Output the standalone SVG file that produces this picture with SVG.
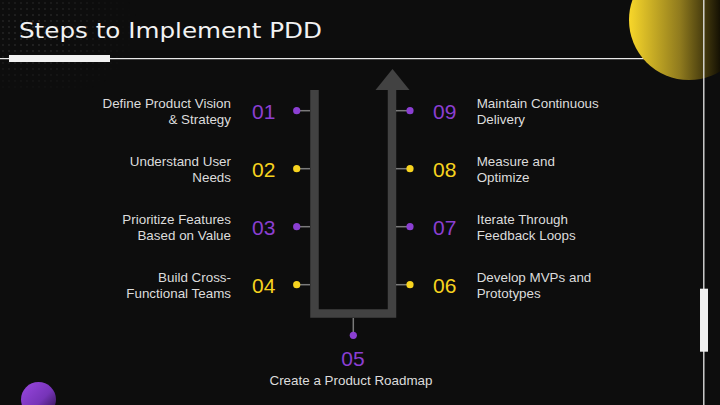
<svg xmlns="http://www.w3.org/2000/svg" width="720" height="405" viewBox="0 0 720 405">
<defs>
<style>
.bg{fill:#0d0d0d}
.lbl{font-family:"Liberation Sans",Arial,sans-serif;font-size:13.4px;fill:#dcdcdc}
.num{font-family:"Liberation Sans",Arial,sans-serif;font-size:21px}
.p{fill:#8b3fd2}
.y{fill:#f7d31f}
.conn{stroke:#7a7a7a;stroke-width:1.5}
.track{fill:none;stroke:#424242;stroke-width:8.5;stroke-linejoin:miter}
</style>
<linearGradient id="gy" gradientUnits="userSpaceOnUse" x1="629" y1="0" x2="722" y2="0">
<stop offset="0" stop-color="#f8d72a"/>
<stop offset="0.55" stop-color="#8f7a1e"/>
<stop offset="1" stop-color="#0f0c02"/>
</linearGradient>
<linearGradient id="gp" x1="0" y1="0" x2="1" y2="1">
<stop offset="0" stop-color="#9a48e0"/>
<stop offset="0.55" stop-color="#7634b8"/>
<stop offset="1" stop-color="#220c3a"/>
</linearGradient>
<pattern id="dots" width="6" height="6" patternUnits="userSpaceOnUse">
<circle cx="3" cy="3" r="0.9" fill="#3a3a3a"/>
</pattern>
<radialGradient id="fade" cx="0.25" cy="0.35" r="0.75">
<stop offset="0" stop-color="#fff" stop-opacity="0.8"/>
<stop offset="1" stop-color="#fff" stop-opacity="0"/>
</radialGradient>
<mask id="m"><rect x="0" y="0" width="140" height="90" fill="url(#fade)"/></mask>
</defs>
<rect class="bg" x="0" y="0" width="720" height="405"/>
<rect x="0" y="0" width="140" height="90" fill="url(#dots)" mask="url(#m)"/>
<line x1="0" y1="58.7" x2="704" y2="58.7" stroke="#e8e8e8" stroke-width="1.2"/>
<circle cx="689" cy="20" r="60" fill="url(#gy)"/>
<line x1="703.8" y1="0" x2="703.8" y2="405" stroke="#e8e8e8" stroke-width="1.3"/>
<rect x="700" y="288.7" width="8" height="63" fill="#f0f0f0"/>
<rect x="9" y="55" width="101" height="7" fill="#f2f2f2"/>
<circle cx="38.5" cy="399.5" r="17.5" fill="url(#gp)"/>
<text x="19" y="38" font-family="DejaVu Sans,Verdana,sans-serif" font-size="22" fill="#f2f2f2" textLength="303" lengthAdjust="spacingAndGlyphs">Steps to Implement PDD</text>

<g id="track">
<path class="track" d="M314.5,90 V313.5 H392 V88"/>
<polygon points="375.5,90 409.5,90 392.5,69" fill="#424242"/>
</g>

<g id="connectors">
<line class="conn" x1="297" y1="110.7" x2="310" y2="110.7"/>
<line class="conn" x1="297" y1="168.7" x2="310" y2="168.7"/>
<line class="conn" x1="297" y1="226.7" x2="310" y2="226.7"/>
<line class="conn" x1="297" y1="284.7" x2="310" y2="284.7"/>
<line class="conn" x1="396" y1="110.7" x2="410" y2="110.7"/>
<line class="conn" x1="396" y1="168.7" x2="410" y2="168.7"/>
<line class="conn" x1="396" y1="226.7" x2="410" y2="226.7"/>
<line class="conn" x1="396" y1="284.7" x2="410" y2="284.7"/>
<line class="conn" x1="353.3" y1="318" x2="353.3" y2="335"/>
</g>

<g id="step01">
<circle class="p" cx="296.7" cy="110.7" r="3.6"/>
<text class="num p" x="252" y="119">01</text>
<text class="lbl" text-anchor="end" x="231" y="107.7">Define Product Vision</text>
<text class="lbl" text-anchor="end" x="231" y="124.3">&amp; Strategy</text>
</g>
<g id="step02">
<circle class="y" cx="296.7" cy="168.7" r="3.6"/>
<text class="num y" x="252" y="177">02</text>
<text class="lbl" text-anchor="end" x="231" y="165.7">Understand User</text>
<text class="lbl" text-anchor="end" x="231" y="182.3">Needs</text>
</g>
<g id="step03">
<circle class="p" cx="296.7" cy="226.7" r="3.6"/>
<text class="num p" x="252" y="235">03</text>
<text class="lbl" text-anchor="end" x="231" y="223.7">Prioritize Features</text>
<text class="lbl" text-anchor="end" x="231" y="240.3">Based on Value</text>
</g>
<g id="step04">
<circle class="y" cx="296.7" cy="284.7" r="3.6"/>
<text class="num y" x="252" y="293">04</text>
<text class="lbl" text-anchor="end" x="231" y="281.7">Build Cross-</text>
<text class="lbl" text-anchor="end" x="231" y="298.3">Functional Teams</text>
</g>
<g id="step05">
<circle class="p" cx="353.3" cy="335.3" r="3.6"/>
<text class="num p" x="353" y="366" text-anchor="middle">05</text>
<text class="lbl" x="351" y="384.5" text-anchor="middle">Create a Product Roadmap</text>
</g>
<g id="step06">
<circle class="y" cx="410" cy="284.7" r="3.6"/>
<text class="num y" x="433" y="293">06</text>
<text class="lbl" x="476.7" y="281.7">Develop MVPs and</text>
<text class="lbl" x="476.7" y="298.3">Prototypes</text>
</g>
<g id="step07">
<circle class="p" cx="410" cy="226.7" r="3.6"/>
<text class="num p" x="433" y="235">07</text>
<text class="lbl" x="476.7" y="223.7">Iterate Through</text>
<text class="lbl" x="476.7" y="240.3">Feedback Loops</text>
</g>
<g id="step08">
<circle class="y" cx="410" cy="168.7" r="3.6"/>
<text class="num y" x="433" y="177">08</text>
<text class="lbl" x="476.7" y="165.7">Measure and</text>
<text class="lbl" x="476.7" y="182.3">Optimize</text>
</g>
<g id="step09">
<circle class="p" cx="410" cy="110.7" r="3.6"/>
<text class="num p" x="433" y="119">09</text>
<text class="lbl" x="476.7" y="107.7">Maintain Continuous</text>
<text class="lbl" x="476.7" y="124.3">Delivery</text>
</g>
</svg>
